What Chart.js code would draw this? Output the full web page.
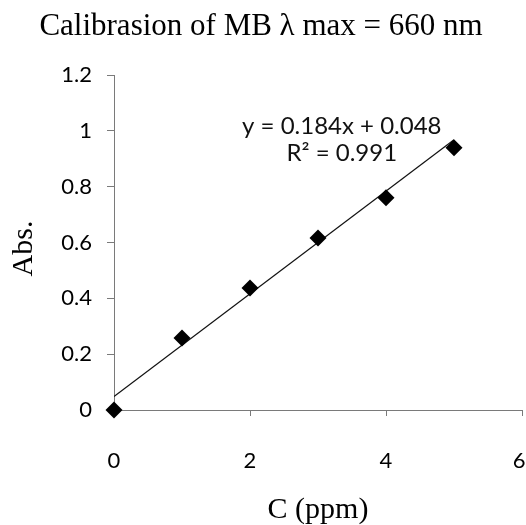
<!DOCTYPE html>
<html><head><meta charset="utf-8">
<script src="https://cdn.jsdelivr.net/npm/chart.js@4"></script>
<style>html,body{margin:0;padding:0;background:#fff}</style>
</head><body>
<canvas id="c" width="526" height="525"></canvas>
<script>
// ---- data ----
const concentrations = [0, 1, 2, 3, 4, 5];
const absorbances = [0, 0.258, 0.437, 0.616, 0.760, 0.939];
const trendX = [0, 5];
const trendY = [0.048, 0.968];
const xTicks = [0, 2, 4, 6];
const yTicks = [0, 0.2, 0.4, 0.6, 0.8, 1, 1.2];
const equationLines = ['y = 0.184x + 0.048', 'R\u00B2 = 0.991'];
const chartTitle = 'Calibrasion of MB \u03BB max = 660 nm';
const xTitle = 'C (ppm)';
const yTitle = 'Abs.';

const SERIF = '"Liberation Serif", "Times New Roman", serif';
const SANS = 'Lato, "Open Sans", sans-serif';
const AXIS = '#7a7a7a';

const textPlugin = {
  id: 'texts',
  afterDatasetsDraw(chart) {
    const {ctx, scales, chartArea} = chart;
    const cx = scales.x.getPixelForValue(3.35);
    const y1 = scales.y.getPixelForValue(1.015);
    const y2 = scales.y.getPixelForValue(0.918);
    ctx.save();
    ctx.fillStyle = '#111';
    ctx.font = '24px ' + SANS;
    ctx.textAlign = 'center';
    ctx.textBaseline = 'middle';
    ctx.fillText(equationLines[0], cx, y1);
    ctx.fillText(equationLines[1], cx, y2);
    // y axis title
    ctx.fillStyle = '#000';
    ctx.font = '30px ' + SERIF;
    ctx.translate(24, (chartArea.top + chartArea.bottom) / 2 + 6);
    ctx.rotate(-Math.PI / 2);
    ctx.fillText(yTitle, 0, 0);
    ctx.restore();
  }
};

new Chart(document.getElementById('c'), {
  type: 'scatter',
  data: {
    datasets: [
      {
        label: 'Abs',
        data: concentrations.map((c, i) => ({x: c, y: absorbances[i]})),
        pointStyle: 'rectRot',
        pointRadius: 8.5,
        pointHoverRadius: 8.5,
        backgroundColor: '#000',
        borderWidth: 0,
        clip: false,
        order: 1
      },
      {
        label: 'Linear',
        type: 'line',
        data: trendX.map((c, i) => ({x: c, y: trendY[i]})),
        borderColor: '#111',
        borderWidth: 1.2,
        pointRadius: 0,
        fill: false,
        order: 2
      }
    ]
  },
  options: {
    responsive: false,
    animation: false,
    layout: {autoPadding: false, padding: {left: 0, right: 4, top: 0, bottom: 0}},
    plugins: {
      legend: {display: false},
      tooltip: {enabled: false},
      title: {
        display: true,
        text: chartTitle,
        color: '#000',
        font: {family: SERIF, size: 31, weight: 'normal', lineHeight: 1},
        padding: {top: 11, bottom: 33}
      }
    },
    scales: {
      x: {
        type: 'linear',
        min: 0, max: 6,
        afterBuildTicks: s => { s.ticks = xTicks.map(v => ({value: v})); },
        afterFit: s => { s.height = 115; s.paddingLeft = 0; s.paddingRight = 0; },
        grid: {display: true, drawOnChartArea: false, color: AXIS, tickLength: 6},
        border: {display: true, color: AXIS, width: 1},
        ticks: {color: '#000', font: {family: SANS, size: 22}, padding: 32,
          maxRotation: 0, minRotation: 0,
          callback: v => v === xTicks[xTicks.length - 1] ? String(v) + ' ' : String(v)},
        title: {display: true, text: xTitle, color: '#000',
          font: {family: SERIF, size: 30, lineHeight: 1}, padding: {top: 0, bottom: 0}}
      },
      y: {
        type: 'linear',
        min: 0, max: 1.2,
        afterBuildTicks: s => { s.ticks = yTicks.map(v => ({value: v})); },
        afterFit: s => { s.width = 114; },
        grid: {display: true, drawOnChartArea: false, color: AXIS, tickLength: 7},
        border: {display: true, color: AXIS, width: 1},
        ticks: {color: '#000', font: {family: SANS, size: 22}, padding: 15,
          callback: v => String(v)},
        title: {display: false, text: yTitle}
      }
    }
  },
  plugins: [textPlugin]
});
</script>
</body></html>
